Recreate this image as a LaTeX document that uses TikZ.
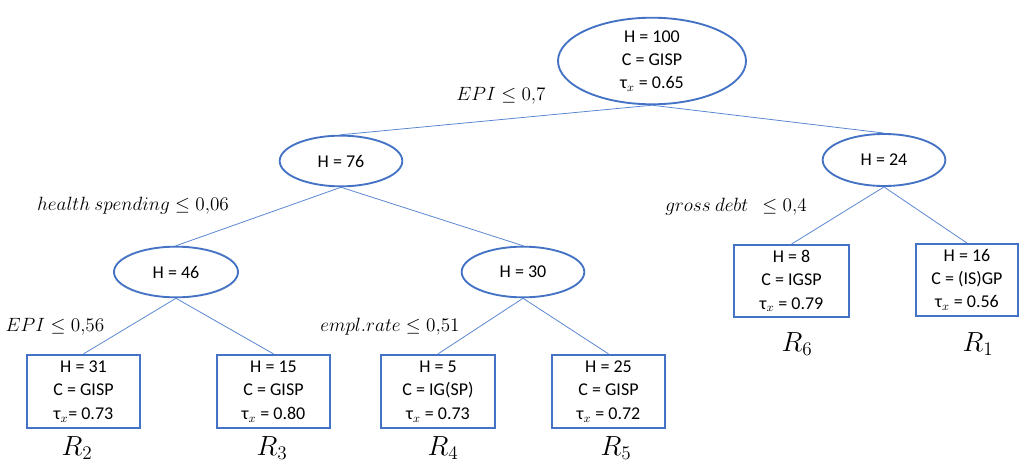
\documentclass[tikz,border=0pt]{standalone}
\usepackage{fontspec}
\setmainfont{Carlito}
\usepackage{tikz}
\usetikzlibrary{shapes.geometric}

\definecolor{azul}{RGB}{68,114,196}
\definecolor{azulclaro}{RGB}{90,135,210}

\begin{document}
\begin{tikzpicture}[x=0.75pt,y=-0.75pt]
\tikzstyle{elipse}=[ellipse,draw=azul,line width=1.4pt,align=center,inner sep=0pt,font=\fontsize{13.5}{17.5}\selectfont]
\tikzstyle{caixa}=[rectangle,draw=azul,line width=1.4pt,align=center,inner sep=0pt,minimum width=85pt,minimum height=55pt,font=\fontsize{13.5}{17.5}\selectfont]
\tikzstyle{ramo}=[draw=azulclaro,line width=0.6pt]
\tikzstyle{regra}=[font=\fontsize{14.5}{16}\selectfont]
\tikzstyle{regiao}=[anchor=base,font=\fontsize{21}{24}\selectfont]
\useasboundingbox (0,0) rectangle (1020,463);

% inner nodes
\node[elipse,minimum width=141pt,minimum height=64.5pt] (raiz) at (652,61) {H = 100\\C = GISP\\τ$_x$ = 0.65};
\node[elipse,minimum width=92pt,minimum height=38pt] (h76) at (341,161) {H = 76};
\node[elipse,minimum width=92pt,minimum height=39pt] (h24) at (884,160) {H = 24};
\node[elipse,minimum width=93pt,minimum height=38pt] (h46) at (176,272) {H = 46};
\node[elipse,minimum width=92pt,minimum height=38pt] (h30) at (523,272) {H = 30};

% leaves
\node[caixa] (r2) at (83.5,391.5) {H = 31\\C = GISP\\τ$_x$= 0.73};
\node[caixa] (r3) at (273.5,391.5) {H = 15\\C = GISP\\τ$_x$ = 0.80};
\node[caixa] (r4) at (438,391.5) {H = 5\\C = IG(SP)\\τ$_x$ = 0.73};
\node[caixa] (r5) at (608.5,391.5) {H = 25\\C = GISP\\τ$_x$ = 0.72};
\node[caixa,minimum width=86pt,minimum height=54pt] (r6) at (791.5,281) {H = 8\\C = IGSP\\τ$_x$ = 0.79};
\node[caixa,minimum width=76pt,minimum height=54pt] (r1) at (967,280) {H = 16\\C = (IS)GP\\τ$_x$ = 0.56};

% region names
\node[regiao] (nr2) at (77,455) {$R_2$};
\node[regiao] (nr3) at (272,455) {$R_3$};
\node[regiao] (nr4) at (443,455) {$R_4$};
\node[regiao] (nr5) at (616,455) {$R_5$};
\node[regiao] (nr6) at (797,351) {$R_6$};
\node[regiao] (nr1) at (978,351) {$R_1$};

% split rules
\node[regra] (s1) at (501,96) {$EPI \leq 0{,}7$};
\node[regra] (s2) at (133,206) {$health\ spending \leq 0{,}06$};
\node[regra] (s3) at (736,207) {$gross\ debt\ \ \leq 0{,}4$};
\node[regra] (s4) at (55,327) {$EPI \leq 0{,}56$};
\node[regra] (s5) at (390,327) {$empl.rate \leq 0{,}51$};

% branches
\draw[ramo] (raiz.south) -- (h76.north);
\draw[ramo] (raiz.south) -- (h24.north);
\draw[ramo] (h76.south) -- (h46.north);
\draw[ramo] (h76.south) -- (h30.north);
\draw[ramo] (h24.south) -- (r6.north);
\draw[ramo] (h24.south) -- (r1.north);
\draw[ramo] (h46.south) -- (r2.north);
\draw[ramo] (h46.south) -- (r3.north);
\draw[ramo] (h30.south) -- (r4.north);
\draw[ramo] (h30.south) -- (r5.north);
\end{tikzpicture}
\end{document}
